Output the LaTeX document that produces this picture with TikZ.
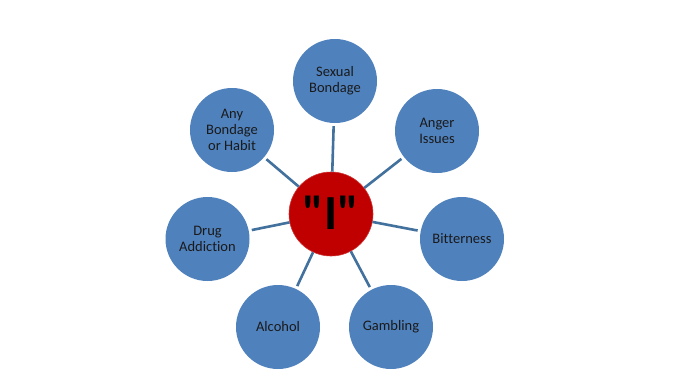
\documentclass[tikz,border=0pt]{standalone}
\usepackage{fontspec}
\setmainfont{Carlito}[Ligatures={TeX,NoCommon}]
\newfontfamily\corefont{Carlito}[Ligatures=NoCommon]
\usepackage{xcolor}
\definecolor{SpokeBlue}{HTML}{4F81BD}
\definecolor{SpokeLine}{HTML}{41719C}
\definecolor{CoreRed}{HTML}{C00000}
\definecolor{LabelText}{HTML}{1A1A1A}
% straight double quote, set as a glyph so no TeX mapping turns it curly
\newcommand{\straightquote}{\XeTeXglyph\XeTeXcharglyph"22\relax}
\tikzset{
	spoke/.style={circle, fill=SpokeBlue, minimum size=84pt, inner sep=0pt, align=center, text=LabelText, font=\fontsize{14.5}{16}\selectfont},
	core/.style={circle, fill=CoreRed, draw=CoreRed!80!white, line width=0.6pt, minimum size=84pt, inner sep=0pt, text=black, font=\corefont\bfseries\fontsize{49}{50}\selectfont},
	link/.style={draw=SpokeLine, line width=2.6pt, shorten >=3pt},
}

\begin{document}
\begin{tikzpicture}[x=1pt,y=-1pt]
	\fill[white] (0,0) rectangle (681,391);

	\node[core] (core) at (331,214) {\raisebox{1.5pt}{\straightquote I\straightquote}};

	\node[spoke] (sexual) at (335,81) {Sexual\\Bondage};
	\node[spoke] (anger) at (437,131) {Anger\\Issues};
	\node[spoke] (bitter) at (462,239) {Bitterness};
	\node[spoke] (gambling) at (391,327) {Gambling};
	\node[spoke] (alcohol) at (278,327) {Alcohol};
	\node[spoke] (drug) at (207.5,239) {Drug\\Addiction};
	\node[spoke] (habit) at (232,130) {Any\\Bondage\\or Habit};

	\foreach \target in {sexual,anger,bitter,gambling,alcohol,drug,habit} {
		\draw[link] (core) -- (\target);
	}
\end{tikzpicture}
\end{document}
